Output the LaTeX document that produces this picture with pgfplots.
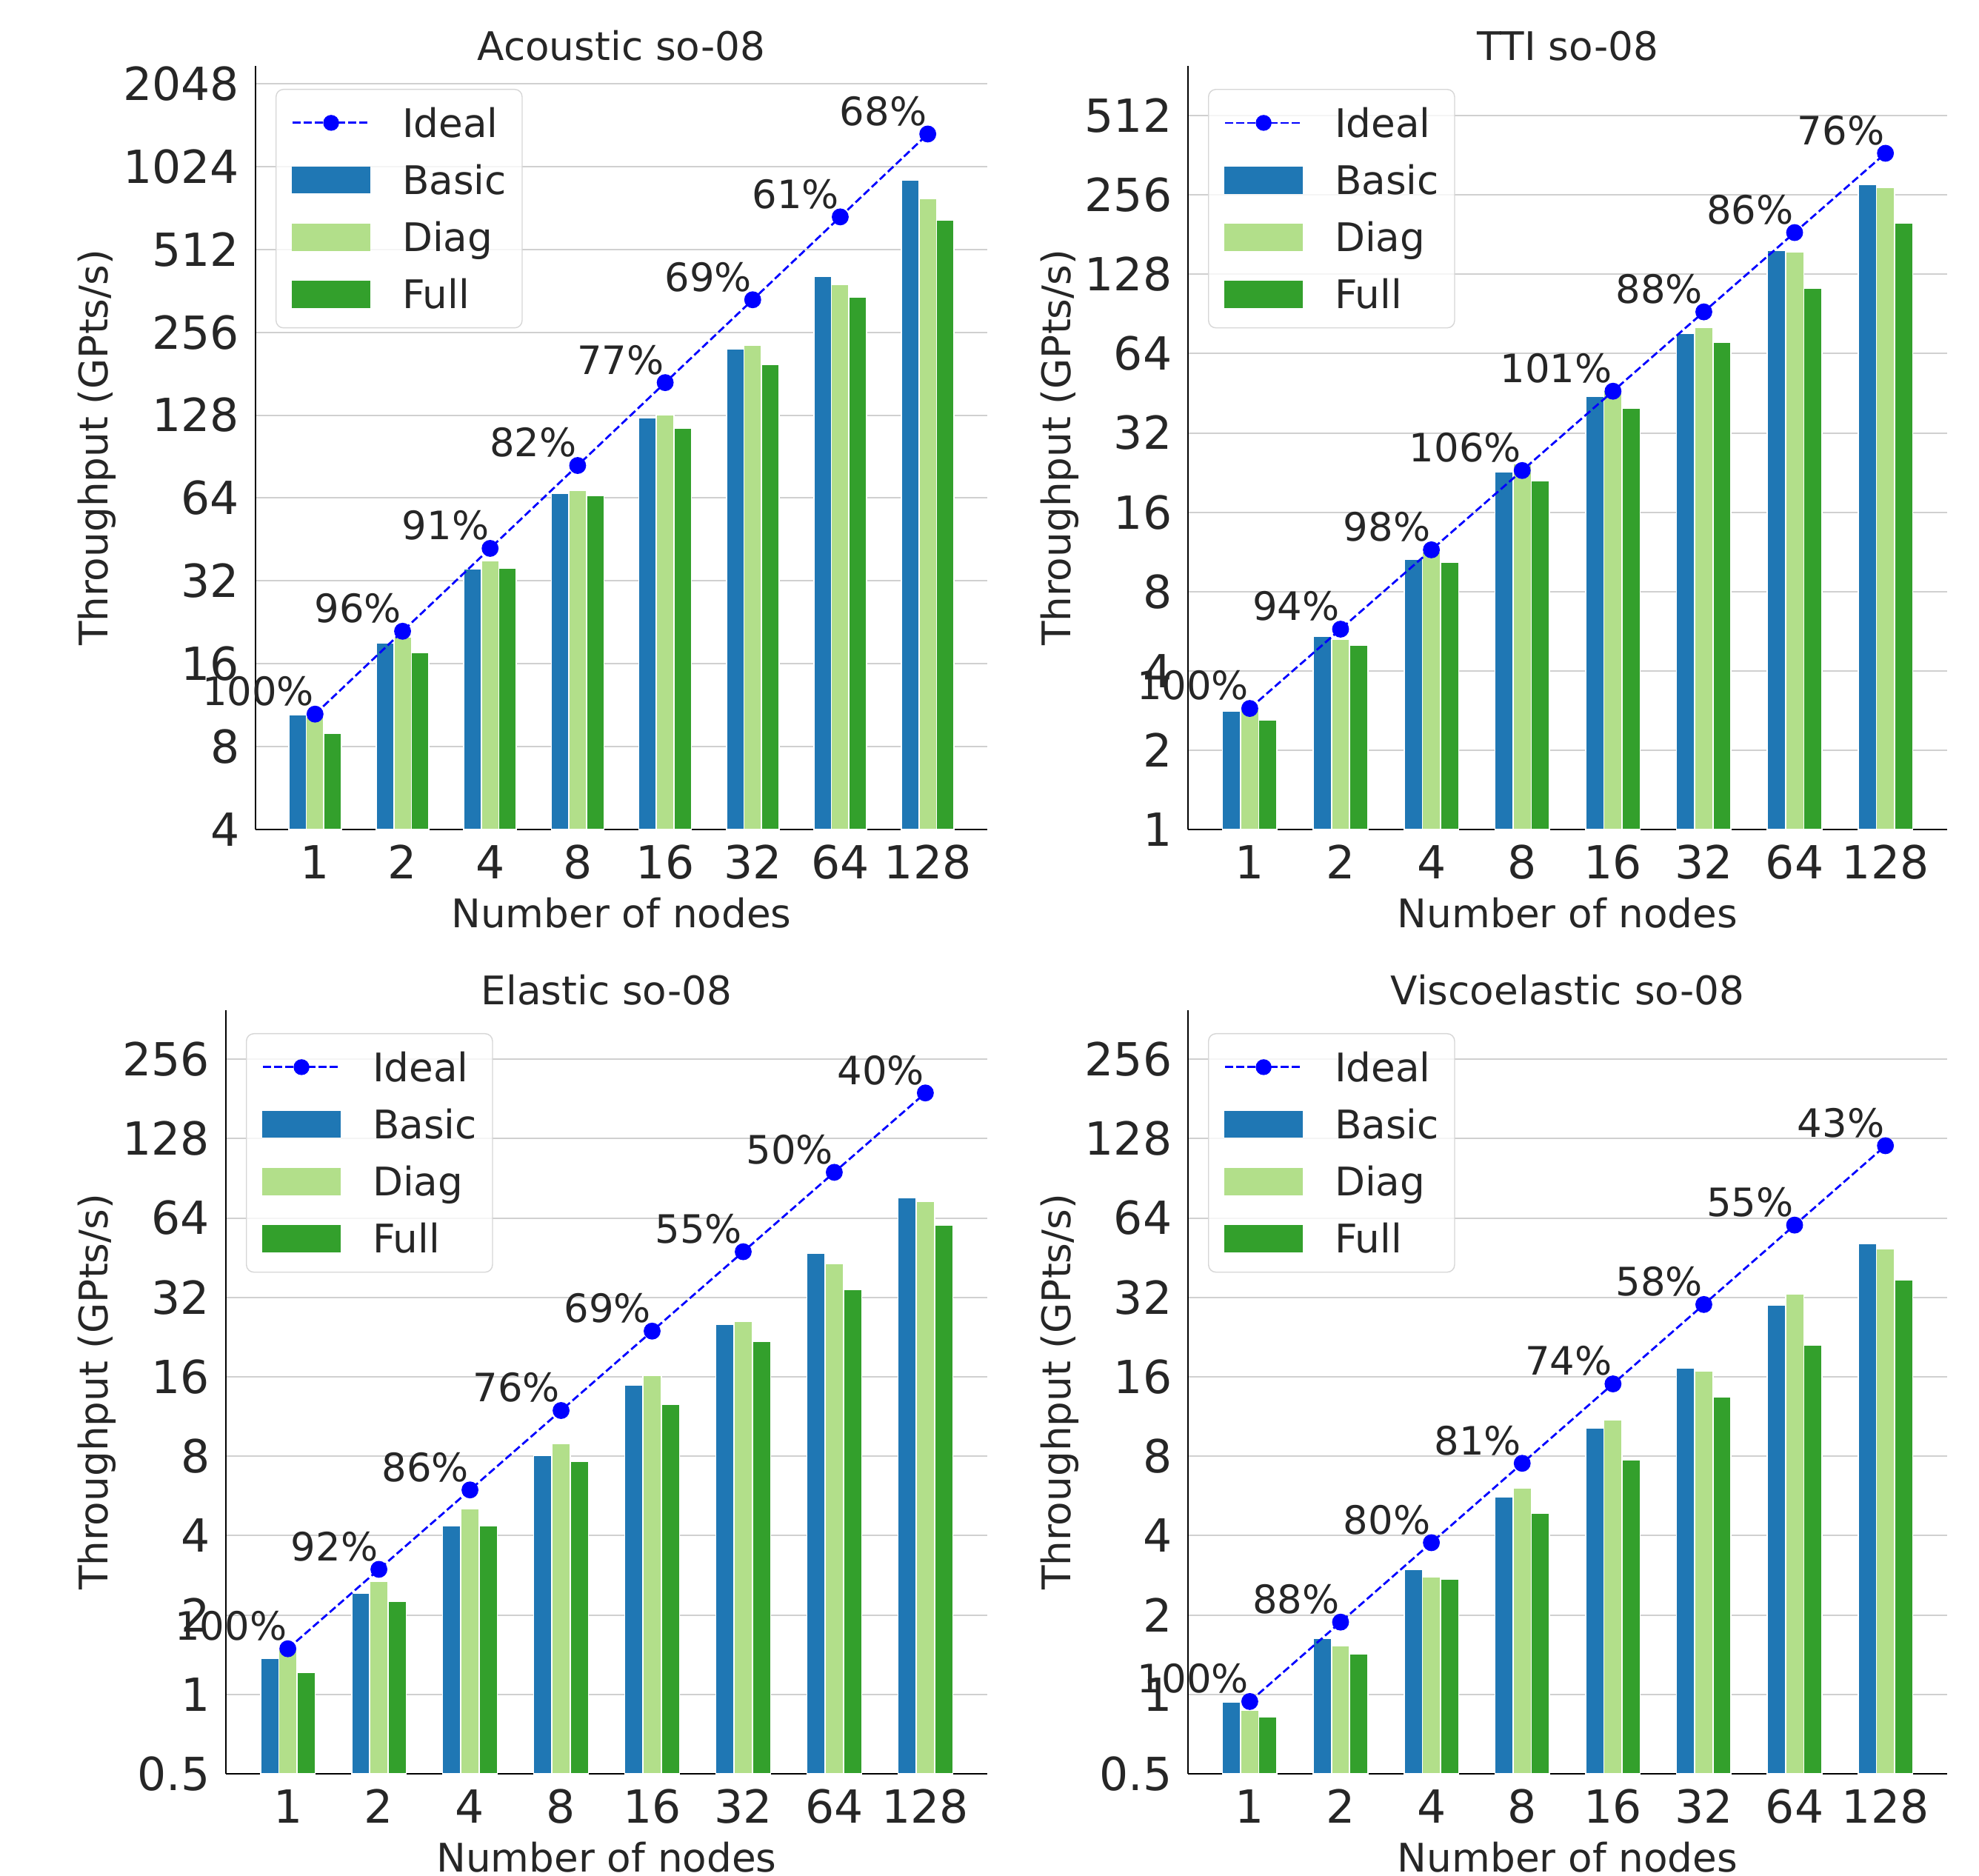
\documentclass[border=0pt]{standalone}
\usepackage{fontspec}
\setmainfont{DejaVu Sans}
\usepackage{pgfplots}
\usepackage{pgfplotstable}
\pgfplotsset{compat=1.18}

\definecolor{cBasic}{HTML}{1F77B4}
\definecolor{cDiag}{HTML}{B2DF8A}
\definecolor{cFull}{HTML}{33A02C}
\definecolor{txt}{HTML}{262626}
\definecolor{gridc}{HTML}{D0D0D0}
\definecolor{legc}{HTML}{D6D6D6}

\newcommand{\fsTick}{\fontsize{15.4pt}{16pt}\selectfont}
\newcommand{\fsText}{\fontsize{13.3pt}{14pt}\selectfont}
\newcommand{\fsAnn}{\fontsize{13.2pt}{14pt}\selectfont}

\pgfplotstableread{
x basic diag full ideal lab
0 10.45 10.25 8.93 10.5 100
1 19.0 20.0 17.6 21 96
2 35.3 37.8 35.5 42 91
3 66.4 68.4 65.3 84 82
4 124.9 128 114.8 168 77
5 223 230 196 336 69
6 408 381 343 672 61
7 913 782 656 1344 68
}\acoustic

\pgfplotstableread{
x basic diag full ideal lab
0 2.82 2.87 2.60 2.88 100
1 5.40 5.26 4.99 5.76 94
2 10.58 11.29 10.30 11.52 98
3 22.8 24.4 21.1 23.04 106
4 44.1 46.5 39.7 46.08 101
5 76.5 80.2 70.7 92.16 88
6 157.3 155.2 113.3 184.3 86
7 280 272.7 200 368.6 76
}\tti

\pgfplotstableread{
x basic diag full ideal lab
0 1.373 1.48 1.215 1.49 100
1 2.425 2.68 2.25 2.98 92
2 4.37 5.06 4.35 5.96 86
3 8.03 8.93 7.66 11.92 76
4 14.9 16.2 12.55 23.84 69
5 25.3 25.9 21.8 47.68 55
6 47.0 42.9 34.2 95.36 50
7 76.4 73.8 60.3 190.7 40
}\elastic

\pgfplotstableread{
x basic diag full ideal lab
0 0.935 0.871 0.82 0.94 100
1 1.63 1.525 1.42 1.88 88
2 2.97 2.78 2.73 3.76 80
3 5.59 6.05 4.86 7.52 81
4 10.22 11.01 7.73 15.04 74
5 17.27 16.83 13.4 30.08 58
6 29.97 32.86 21.1 60.16 55
7 51.1 48.9 37.3 120.3 43
}\visco

\pgfplotsset{
  myaxis/.style={
    scale only axis, height=257.75pt,
    xmin=-0.68, xmax=7.68, ymin=0,
    axis x line*=bottom, axis y line*=left,
    axis line style={black, line width=0.5pt},
    major tick length=0pt,
    xtick={0,1,2,3,4,5,6,7}, xticklabels={1,2,4,8,16,32,64,128},
    ytick={0,1,2,3,4,5,6,7,8,9},
    ymajorgrids, major grid style={gridc, line width=0.5pt},
    tick label style={font=\fsTick, text=txt, inner sep=0pt},
    xticklabel style={anchor=base, yshift=-16.5pt},
    yticklabel style={anchor=east, xshift=-5.25pt},
    title style={font=\fsText, text=txt, at={(0.5,1)}, anchor=base, yshift=-4.2pt, inner sep=0pt},
    xlabel={Number of nodes},
    xlabel style={font=\fsText, text=txt, at={(0.5,0)}, anchor=base, yshift=-33pt, inner sep=0pt},
    ylabel={Throughput (GPts/s)},
    ylabel style={font=\fsText, text=txt, anchor=base, inner sep=0pt},
    legend cell align=left,
    legend style={at={(0,1)}, anchor=north west, xshift=6.75pt, yshift=-7.75pt,
      draw=legc, line width=0.35pt, rounded corners=2.5pt,
      fill=white, fill opacity=0.8, draw opacity=1, text opacity=1,
      inner xsep=5.25pt, inner ysep=6.5pt, row sep=9.7pt, column sep=10.65pt,
      font=\fsText, text=txt,
      nodes={inner sep=0pt, text height=9.6pt, text depth=0pt}},
  },
  barleg/.style={legend image code/.code={%
    \fill[#1, fill opacity=1, sharp corners] (0pt,-4.4pt) rectangle (26pt,4.4pt);}},
  idealleg/.style={legend image code/.code={%
    \draw[blue, fill opacity=1, sharp corners, line width=0.7pt, dash pattern=on 2.6pt off 1.15pt] (0pt,0pt) -- (26pt,0pt);
    \fill[blue, fill opacity=1] (13pt,0pt) circle[radius=2.5pt];}},
}

% #1 = table, #2 = offset added to log2(value) so that the axis bottom is 0
\newcommand{\panelplots}[2]{%
  \addlegendimage{idealleg}
  \addlegendentry{Ideal}
  \addplot[ybar, bar width=0.2, bar shift=0pt, draw=white, line width=0.4pt, fill=cBasic, barleg=cBasic]
    table[x expr=\thisrow{x}-0.2, y expr={ln(\thisrow{basic})/0.693147+(#2)}] {#1};
  \addlegendentry{Basic}
  \addplot[ybar, bar width=0.2, bar shift=0pt, draw=white, line width=0.4pt, fill=cDiag, barleg=cDiag]
    table[x=x, y expr={ln(\thisrow{diag})/0.693147+(#2)}] {#1};
  \addlegendentry{Diag}
  \addplot[ybar, bar width=0.2, bar shift=0pt, draw=white, line width=0.4pt, fill=cFull, barleg=cFull]
    table[x expr=\thisrow{x}+0.2, y expr={ln(\thisrow{full})/0.693147+(#2)}] {#1};
  \addlegendentry{Full}
  \addplot[blue, line width=0.7pt, dash pattern=on 2.6pt off 1.15pt, mark=*, mark size=2.5pt,
    mark options={solid, fill=blue, draw=blue}, forget plot,
    nodes near coords={\pgfplotspointmeta\%}, point meta=explicit symbolic,
    every node near coord/.append style={anchor=base east, yshift=2.9pt, inner sep=0pt, font=\fsAnn, text=txt}]
    table[x=x, y expr={ln(\thisrow{ideal})/0.693147+(#2)}, meta=lab] {#1};
}

\begin{document}
\begin{tikzpicture}
\useasboundingbox (0,0) rectangle (668pt,633pt);

\begin{axis}[myaxis, at={(86.25pt,353pt)}, anchor=south west, width=247pt,
  title={Acoustic so-08},
  ymax=9.214,
  yticklabels={4,8,16,32,64,128,256,512,1024,2048},
  ylabel style={at={([xshift=-50pt]axis description cs:0,0.5)}}]
\panelplots{\acoustic}{-2}
\end{axis}

\begin{axis}[myaxis, at={(401pt,353pt)}, anchor=south west, width=256.25pt,
  title={TTI so-08},
  ymax=9.627,
  yticklabels={1,2,4,8,16,32,64,128,256,512},
  ylabel style={at={([xshift=-39.75pt]axis description cs:0,0.5)}}]
\panelplots{\tti}{0}
\end{axis}

\begin{axis}[myaxis, at={(76.25pt,34.25pt)}, anchor=south west, width=257pt,
  title={Elastic so-08},
  ymax=9.617,
  yticklabels={0.5,1,2,4,8,16,32,64,128,256},
  ylabel style={at={([xshift=-40pt]axis description cs:0,0.5)}}]
\panelplots{\elastic}{1}
\end{axis}

\begin{axis}[myaxis, at={(401pt,34.25pt)}, anchor=south west, width=256.25pt,
  title={Viscoelastic so-08},
  ymax=9.617,
  yticklabels={0.5,1,2,4,8,16,32,64,128,256},
  ylabel style={at={([xshift=-39.75pt]axis description cs:0,0.5)}}]
\panelplots{\visco}{1}
\end{axis}
\end{tikzpicture}
\end{document}
